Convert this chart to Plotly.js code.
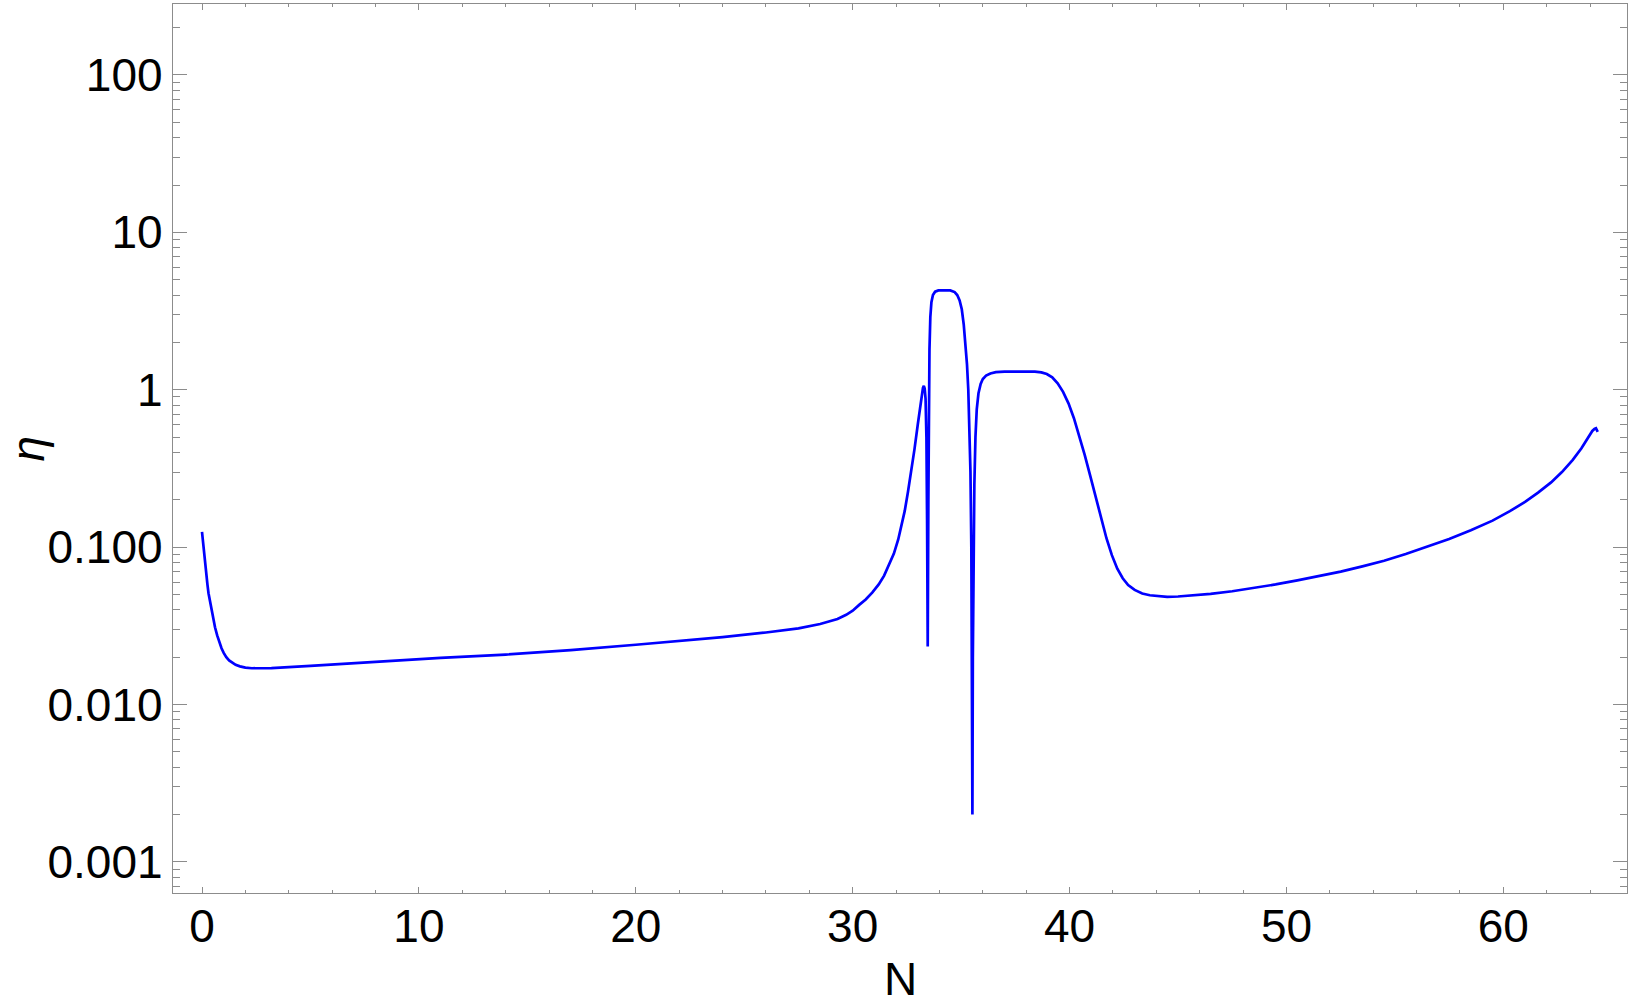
<!DOCTYPE html>
<html>
<head>
<meta charset="utf-8">
<script src="https://cdn.plot.ly/plotly-3.0.1.min.js"></script>
<style>
  html, body { margin: 0; padding: 0; background: #fff; }
  #chart { width: 1631px; height: 1007px; }
</style>
</head>
<body>
<div id="chart"></div>
<script>
// N values and eta
const nVals = [
  0, 0.05, 0.1, 0.15, 0.2, 0.25, 0.3, 0.38, 0.45, 0.52, 0.6, 0.7, 0.8, 0.9, 1.0, 1.12, 1.25, 1.4, 1.55, 1.75,
  2.0, 2.3, 2.7, 3.2, 5, 8, 11, 14, 17, 20, 22, 24, 26, 27.5, 28.5, 29.3, 29.7, 30.0, 30.3, 30.6,
  30.9, 31.2, 31.45, 31.7, 31.9, 32.1, 32.25, 32.4, 32.55, 32.7, 32.85, 33.0, 33.1, 33.18, 33.24, 33.28, 33.32, 33.36, 33.40, 33.43,
  33.46, 33.49, 33.51, 33.54, 33.58, 33.63, 33.7, 33.8, 33.95, 34.2, 34.5, 34.7, 34.82, 34.93, 35.03, 35.12, 35.2, 35.27, 35.33, 35.38,
  35.43, 35.47, 35.5, 35.52, 35.54, 35.57, 35.61, 35.66, 35.72, 35.8, 35.9, 36.0, 36.15, 36.35, 36.6, 37, 37.5, 38, 38.4, 38.7,
  38.95, 39.2, 39.45, 39.7, 39.95, 40.2, 40.45, 40.7, 40.95, 41.2, 41.45, 41.7, 41.95, 42.2, 42.45, 42.7, 43.0, 43.35, 43.7, 44.1,
  44.5, 45.0, 45.6, 46.5, 47.5, 48.5, 49.5, 50.5, 51.5, 52.5, 53.5, 54.5, 55.5, 56.5, 57.5, 58.5, 59.5, 60.3, 61.0, 61.6,
  62.2, 62.7, 63.2, 63.6, 63.9, 64.1, 64.2, 64.27, 64.35
];
const etaVals = [
  0.125, 0.105, 0.09, 0.077, 0.067, 0.058, 0.051, 0.044, 0.039, 0.035, 0.031, 0.0275, 0.0248, 0.0228, 0.0213, 0.02, 0.0191, 0.0184, 0.0179, 0.0175,
  0.01718, 0.01702, 0.01697, 0.01705, 0.0176, 0.0187, 0.0198, 0.0208, 0.0222, 0.024, 0.0253, 0.0268, 0.0287, 0.0305, 0.0325, 0.035, 0.0372, 0.0395, 0.043, 0.0465,
  0.0515, 0.058, 0.066, 0.078, 0.091, 0.112, 0.137, 0.17, 0.225, 0.3, 0.42, 0.6, 0.76, 0.92, 1.03, 1.06, 1.02, 0.88, 0.5, 0.15,
  0.0234, 0.2, 0.8, 1.8, 2.9, 3.6, 4.0, 4.2, 4.28, 4.3, 4.28, 4.18, 4.0, 3.7, 3.25, 2.6, 2.0, 1.45, 1.0, 0.6,
  0.3, 0.1, 0.02, 0.002, 0.02, 0.1, 0.25, 0.5, 0.75, 0.95, 1.09, 1.17, 1.23, 1.27, 1.295, 1.305, 1.31, 1.31, 1.305, 1.29,
  1.26, 1.2, 1.1, 0.97, 0.82, 0.66, 0.51, 0.385, 0.285, 0.207, 0.152, 0.114, 0.089, 0.073, 0.0635, 0.0575, 0.0535, 0.0508, 0.0495, 0.0487,
  0.0484, 0.0486, 0.0492, 0.0505, 0.0525, 0.0551, 0.058, 0.0615, 0.0655, 0.07, 0.0755, 0.082, 0.0905, 0.1006, 0.1129, 0.1282, 0.1475, 0.1694, 0.194, 0.222,
  0.258, 0.3, 0.359, 0.425, 0.495, 0.548, 0.564, 0.57, 0.54
];

const yTickVals = [0.001, 0.01, 0.1, 1, 10, 100];
const yTickText = ["0.001", "0.010", "0.100", "1", "10", "100"];
const xTickVals = [0, 10, 20, 30, 40, 50, 60];

// minor log ticks 2..9 per decade
const yMinor = [];
for (let e = -4; e <= 2; e++) {
  for (let m = 2; m <= 9; m++) yMinor.push(m * Math.pow(10, e));
}

const frameColor = "#8c8c8c";
const font = { family: "Liberation Sans, Arial, sans-serif", size: 46, color: "#000" };

const trace = {
  x: nVals,
  y: etaVals,
  type: "scatter",
  mode: "lines",
  line: { color: "#0000ff", width: 2.7 },
  hoverinfo: "skip",
};

const layout = {
  width: 1631,
  height: 1007,
  margin: { l: 173, r: 4, t: 4, b: 114 },
  paper_bgcolor: "#fff",
  plot_bgcolor: "#fff",
  showlegend: false,
  font: font,
  xaxis: {
    range: [-1.337, 65.7],
    tickmode: "array",
    tickvals: xTickVals,
    ticks: "inside",
    ticklen: 6,
    tickwidth: 1,
    tickcolor: frameColor,
    showline: true,
    linecolor: frameColor,
    linewidth: 1.2,
    mirror: "ticks",
    showgrid: false,
    zeroline: false,
    tickfont: font,
    ticklabelstandoff: -7,
    minor: { dtick: 2, ticks: "inside", ticklen: 3, tickcolor: frameColor, showgrid: false },
  },
  yaxis: {
    type: "log",
    range: [-3.197, 2.451],
    tickmode: "array",
    tickvals: yTickVals,
    ticktext: yTickText,
    ticks: "inside",
    ticklen: 14,
    tickwidth: 1,
    tickcolor: frameColor,
    showline: true,
    linecolor: frameColor,
    linewidth: 1.2,
    mirror: "ticks",
    showgrid: false,
    zeroline: false,
    tickfont: font,
    minor: { tickmode: "array", tickvals: yMinor, ticks: "inside", ticklen: 7, tickcolor: frameColor, showgrid: false },
  },
  // axis titles placed as annotations so their position can be set exactly
  annotations: [
    { text: "N", xref: "paper", yref: "paper", x: 0.5, y: -0.1282, xanchor: "center", yanchor: "bottom",
      showarrow: false, font: font },
    { text: "<i>η</i>", xref: "paper", yref: "paper", x: -0.119, y: 0.5, xanchor: "left", yanchor: "middle",
      textangle: -90, showarrow: false, font: font },
  ],
};

Plotly.newPlot("chart", [trace], layout, { staticPlot: true });
</script>
</body>
</html>
